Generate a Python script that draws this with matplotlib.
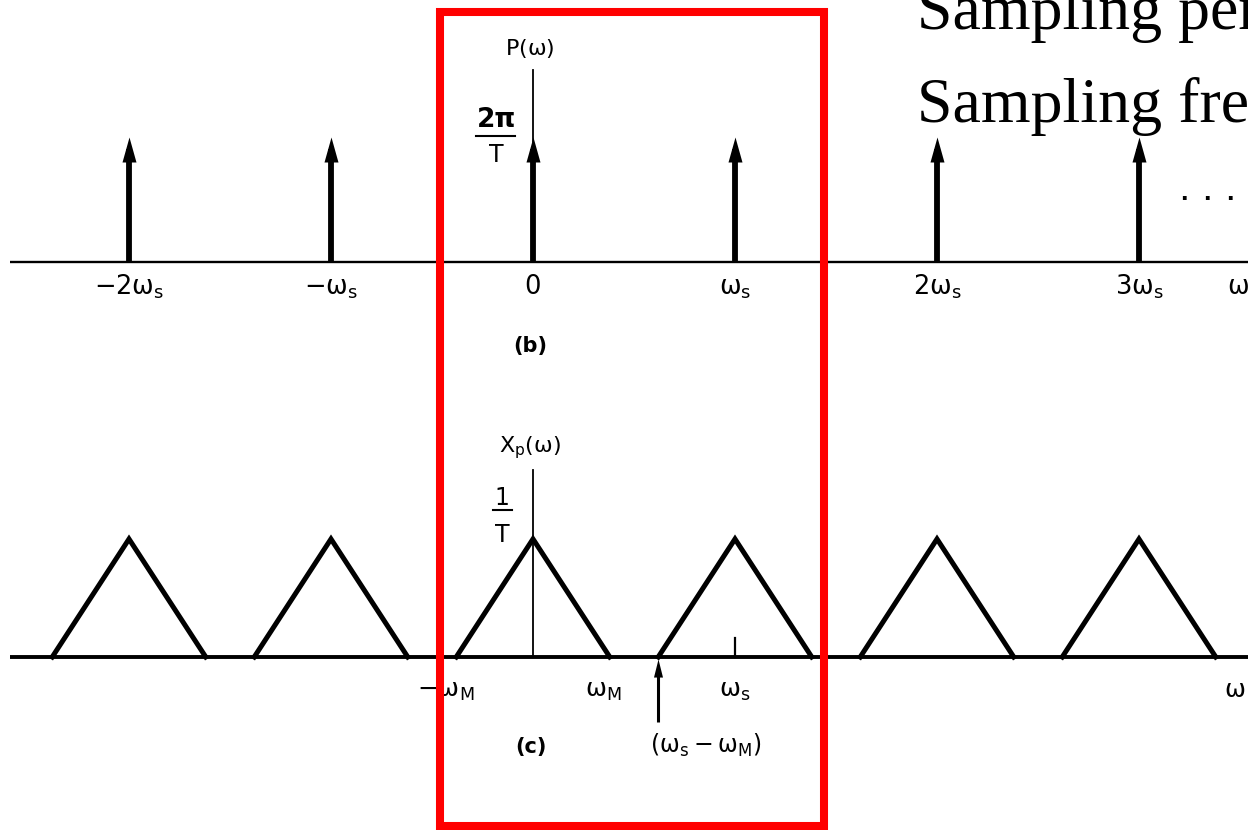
import matplotlib
matplotlib.use("Agg")
import matplotlib.pyplot as plt
from matplotlib.patches import Rectangle

# ---- data -------------------------------------------------------------
# (b) impulse train P(w): positions in multiples of ws, strength 2*pi/T (normalised to 1)
impulse_k = [-2, -1, 0, 1, 2, 3]
impulse_height = [1.0, 1.0, 1.0, 1.0, 1.0, 1.0]
impulse_labels = [r'$-2\omega_s$', r'$-\omega_s$', '0', r'$\omega_s$',
                  r'$2\omega_s$', r'$3\omega_s$']

# (c) sampled spectrum Xp(w): replica centres, peak 1/T (normalised to 1), bandwidth wM/ws
tri_centres = [-2, -1, 0, 1, 2, 3]
tri_peak = [1.0, 1.0, 1.0, 1.0, 1.0, 1.0]
omega_M = 0.38

notes = ['Sampling period', 'Sampling frequency']

# ---- figure -------------------------------------------------------------
W, H = 1248, 830
plt.rcParams['mathtext.default'] = 'regular'
plt.rcParams['mathtext.fontset'] = 'dejavusans'
plt.rcParams['font.family'] = 'DejaVu Sans'
fig = plt.figure(figsize=(W / 100, H / 100), dpi=100)
fig.patch.set_facecolor('white')

xlim = (-533 / 202, 715 / 202)
ax_b = fig.add_axes([0, 430 / H, 1, 400 / H])
ax_c = fig.add_axes([0, 0, 1, 430 / H])
ax_b.set_xlim(*xlim); ax_b.set_ylim(-138 / 125, 262 / 125)
ax_c.set_xlim(*xlim); ax_c.set_ylim(-173 / 118, 257 / 118)
for ax in (ax_b, ax_c):
    ax.axis('off')

head = [(-0.28, -1), (0.28, -1), (0, 0), (-0.28, -1)]
small_head = [(-0.25, -1), (0.25, -1), (0, 0), (-0.25, -1)]

# ---- (b) impulse train ----------------------------------------------------
ax_b.plot([-2.59, xlim[1]], [0, 0], color='black', lw=1.7, solid_capstyle='butt')
ax_b.plot([0, 0], [0, 1.536], color='black', lw=1.3)
for k, h in zip(impulse_k, impulse_height):
    ax_b.plot([k, k], [0, h - 0.1], color='black', lw=4.2, solid_capstyle='butt')
    ax_b.plot([k], [h], marker=head, markersize=36, color='black',
              markeredgewidth=0, linestyle='none')
for k, lab in zip(impulse_k, impulse_labels):
    ax_b.text(k, -0.26, lab, ha='center', va='baseline', fontsize=18.5)
ax_b.text(3.49, -0.26, r'$\omega$', ha='center', va='baseline', fontsize=18.5)
ax_b.text(3.34, 0.5, '. . .', ha='center', va='baseline', fontsize=26)
ax_b.text(-0.015, 1.656, r'P($\omega$)', ha='center', va='baseline', fontsize=16)
ax_b.text(-0.183, 1.08, '2π', ha='center', va='baseline', fontsize=19,
          fontweight='bold')
ax_b.plot([-0.282, -0.089], [1.008, 1.008], color='black', lw=1.5)
ax_b.text(-0.183, 0.80, 'T', ha='center', va='baseline', fontsize=17)
ax_b.text(-0.015, -0.72, '(b)', ha='center', va='baseline', fontsize=15,
          fontweight='bold')

# ---- (c) sampled spectrum ------------------------------------------------
ax_c.plot([-2.59, xlim[1]], [0, 0], color='black', lw=2.8, solid_capstyle='butt')
ax_c.plot([0, 0], [0, 1.585], color='black', lw=1.3)
ax_c.plot([1, 1], [0, 0.16], color='black', lw=1.6)
for c, p in zip(tri_centres, tri_peak):
    ax_c.plot([c - omega_M, c, c + omega_M], [0, p, 0], color='black', lw=3.6,
              solid_joinstyle='miter')
ax_c.plot([1 - omega_M] * 2, [-0.55, -0.12], color='black', lw=2.2,
          solid_capstyle='butt')
ax_c.plot([1 - omega_M], [-0.02], marker=small_head, markersize=26,
          color='black', markeredgewidth=0, linestyle='none')

ax_c.text(-omega_M - 0.05, -0.34, r'$-\omega_M$', ha='center', va='baseline',
          fontsize=18)
ax_c.text(omega_M - 0.03, -0.34, r'$\omega_M$', ha='center', va='baseline',
          fontsize=18)
ax_c.text(1, -0.34, r'$\omega_s$', ha='center', va='baseline', fontsize=18)
ax_c.text(3.475, -0.34, r'$\omega$', ha='center', va='baseline', fontsize=18)
ax_c.text(-0.01, -0.81, '(c)', ha='center', va='baseline', fontsize=15,
          fontweight='bold')
ax_c.text(0.856, -0.81, r'$(\omega_s - \omega_M)$', ha='center', va='baseline',
          fontsize=17)
ax_c.text(-0.015, 1.737, r'$X_p$($\omega$)', ha='center', va='baseline',
          fontsize=16)
ax_c.text(-0.153, 1.288, '1', ha='center', va='baseline', fontsize=17)
ax_c.plot([-0.198, -0.104], [1.246, 1.246], color='black', lw=1.5)
ax_c.text(-0.153, 0.975, 'T', ha='center', va='baseline', fontsize=17)

# ---- highlight box and side notes -------------------------------------
rect = Rectangle((440 / W, 1 - 825.5 / H), 384 / W, 813.5 / H,
                 transform=fig.transFigure, fill=False, edgecolor='#ff0000',
                 linewidth=5.8, joinstyle='miter', zorder=10)
fig.add_artist(rect)
for i, line in enumerate(notes):
    fig.text(917 / W, 1 - (29 + 93 * i) / H, line, fontsize=46,
             family='Liberation Serif', ha='left', va='baseline', zorder=11)

fig.savefig('out.png', dpi=100, facecolor='white')
